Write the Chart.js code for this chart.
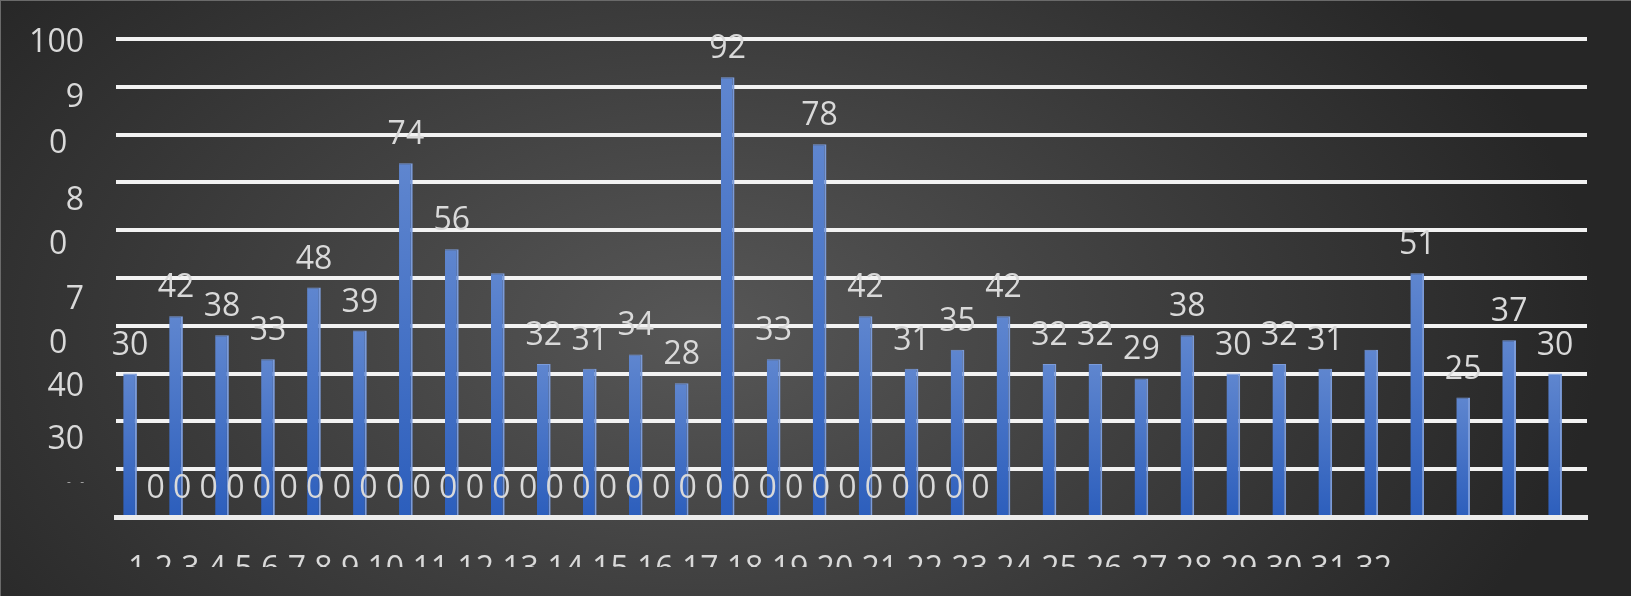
<!DOCTYPE html>
<html>
<head>
<meta charset="utf-8">
<title>Column chart</title>
<script src="https://cdn.jsdelivr.net/npm/chart.js@4.4.1/dist/chart.umd.min.js"></script>
<style>
  html, body { margin: 0; padding: 0; }
  body {
    width: 1631px;
    height: 596px;
    overflow: hidden;
    background: radial-gradient(ellipse 900px 560px at 700px 330px, #575757 0%, #262626 100%);
    box-shadow: inset 1px 1px 0 #6a6a6a;
  }
  #wrap { position: relative; width: 1631px; height: 567px; }
</style>
</head>
<body>
<div id="wrap"><canvas id="chart"></canvas></div>
<script>
// Categories along the x axis
const categories = ['1', '2', '3', '4', '5', '6', '7', '8', '9', '10', '11', '12', '13', '14', '15', '16',
    '17', '18', '19', '20', '21', '22', '23', '24', '25', '26', '27', '28', '29', '30', '31', '32'];

// Blue columns
const counts = [30, 42, 38, 33, 48, 39, 74, 56, 51, 32, 31, 34, 28, 92, 33, 78,
    42, 31, 35, 42, 32, 32, 29, 38, 30, 32, 31, 35, 51, 25, 37, 30];

// Second series, all zero: only its labels are visible
const zeroSeries = [0, 0, 0, 0, 0, 0, 0, 0, 0, 0, 0, 0, 0, 0, 0, 0,
    0, 0, 0, 0, 0, 0, 0, 0, 0, 0, 0, 0, 0, 0, 0, 0];

// Columns (1-based) that carry no value label in the picture
const unlabelled = [9, 28];

// Y axis labels, top to bottom, as they are printed (wrapped / cut)
const yTickLabels = ['100', '9', '0', '8', '0', '7', '0', '40', '30', '-   -'];

const FONT = '"Open Sans", "Noto Sans", sans-serif';
const labelColor = '#d9d9d9';

Chart.defaults.font.family = FONT;

// Where the y labels sit, in axis units
const yLabelAt = [99.1, 87.7, 78.1, 66.1, 56.9, 45.4, 36.2, 27.2, 16.2, 7.3];

// Per-column vertical gradient
function barFill(context) {
    const chart = context.chart;
    const y = chart.scales.y;
    if (!chart.chartArea || !y || !context.parsed) {
        return '#3d6cc6';
    }
    const top = y.getPixelForValue(context.parsed.y);
    const bottom = y.getPixelForValue(0);
    const g = chart.ctx.createLinearGradient(0, top, 0, bottom);
    g.addColorStop(0, '#5f86cf');
    g.addColorStop(1, '#2c5ebc');
    return g;
}

// Value labels, the zero row and the category row
const textLabels = {
    id: 'textLabels',
    afterDatasetsDraw(chart) {
        const ctx = chart.ctx;
        const bars = chart.getDatasetMeta(0).data;
        const zeros = chart.getDatasetMeta(1).data;
        ctx.save();
        ctx.font = '32px ' + FONT;
        ctx.fillStyle = labelColor;
        ctx.textBaseline = 'alphabetic';

        ctx.textAlign = 'center';
        bars.forEach((bar, i) => {
            if (unlabelled.includes(i + 1)) return;
            ctx.fillText(String(counts[i]), bar.x, bar.y - 19);
        });

        // the zero labels run together as one line
        ctx.textAlign = 'left';
        ctx.fillText(zeroSeries.join(' '), zeros[0].x - 1.5, zeros[0].y - 19);

        // category labels, cut off by the bottom of the chart
        ctx.fillText(categories.join(' '), bars[0].x - 2, chart.chartArea.bottom + 62);
        ctx.restore();
    }
};

new Chart(document.getElementById('chart'), {
    type: 'bar',
    data: {
        labels: categories,
        datasets: [{
            label: 'Series 1',
            data: counts,
            yAxisID: 'y',
            backgroundColor: barFill,
            borderColor: '#7b9bd9',
            borderWidth: { top: 1, right: 2, bottom: 0, left: 0 },
            categoryPercentage: 0.775,
            barPercentage: 0.77
        }, {
            label: 'Series 2',
            data: zeroSeries,
            yAxisID: 'y',
            backgroundColor: 'rgba(0,0,0,0)',
            borderWidth: 0,
            categoryPercentage: 0.775,
            barPercentage: 0.77
        }]
    },
    options: {
        responsive: true,
        maintainAspectRatio: false,
        animation: false,
        layout: { padding: { top: 39, right: 44, bottom: 50, left: 0 } },
        plugins: {
            legend: { display: false },
            tooltip: { enabled: false }
        },
        scales: {
            x: {
                grid: { display: false, drawTicks: false },
                ticks: { display: false },
                border: { display: true, color: '#ececec', width: 5, z: 1 }
            },
            y: {
                weight: 0,
                min: 0,
                max: 100,
                ticks: { stepSize: 10, display: false },
                grid: { color: '#f2f2f2', lineWidth: 4, drawTicks: false },
                border: { display: false },
                afterFit: s => { s.width = 32; }
            },
            yl: {
                position: 'left',
                weight: 1,
                min: 0,
                max: 100,
                grid: { display: false, drawTicks: false },
                border: { display: false },
                afterBuildTicks: s => { s.ticks = yLabelAt.map(v => ({ value: v })); },
                afterFit: s => { s.width = 84; },
                ticks: {
                    padding: 0,
                    autoSkip: false,
                    color: c => (c.index === 9 ? '#a8a8a8' : labelColor),
                    font: c => ({ family: FONT, size: c.index === 9 ? 12 : 32 }),
                    // lone zeros sit a little left of the others
                    callback: (value, index) => {
                        const t = yTickLabels[index];
                        return t === '0' ? t + '  ' : t;
                    }
                }
            }
        }
    },
    plugins: [textLabels]
});
</script>
</body>
</html>
